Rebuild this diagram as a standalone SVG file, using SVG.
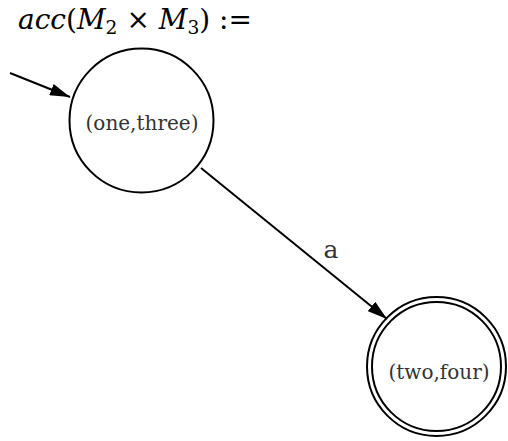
<svg xmlns="http://www.w3.org/2000/svg" width="508" height="441" viewBox="0 0 508 441">
<defs>
<style>
.st{fill:none;stroke:#000;stroke-width:2}
.lbl{font-family:'DejaVu Serif','Liberation Serif',serif;font-size:20px;fill:#333;text-anchor:middle}
.elbl{font-family:'DejaVu Serif','Liberation Serif',serif;font-size:25px;fill:#333;text-anchor:middle}
.edge{fill:none;stroke:#000;stroke-width:2}
.title{font-family:'DejaVu Serif','Liberation Serif',serif;font-size:27px;fill:#000}
</style>
<marker id="ahb" viewBox="0 0 20 12" refX="20" refY="6" markerWidth="20" markerHeight="12" markerUnits="userSpaceOnUse" orient="auto">
<path d="M0,0 L20,6 L0,12 z" fill="#000"/>
</marker>
</defs>
<text class="title" x="18" y="29" textLength="234" lengthAdjust="spacingAndGlyphs"><tspan font-style="italic">acc</tspan>(<tspan font-style="italic">M</tspan><tspan font-size="18" dy="5">2</tspan><tspan dy="-5"> × </tspan><tspan font-style="italic">M</tspan><tspan font-size="18" dy="5">3</tspan><tspan dy="-5">) :=</tspan></text>
<g id="connectors">
<line class="edge" x1="10" y1="73" x2="70" y2="97" marker-end="url(#ahb)"/>
<line class="edge" x1="201" y1="168" x2="387" y2="319" marker-end="url(#ahb)"/>
<text class="elbl" x="331" y="258">a</text>
</g>
<g id="n1">
<circle class="st" cx="141.5" cy="120.5" r="72"/>
<text class="lbl" x="142" y="130">(one,three)</text>
</g>
<g id="n2">
<circle class="st" cx="436.5" cy="366.5" r="69.5"/>
<circle class="st" cx="436.5" cy="366.5" r="64.5"/>
<text class="lbl" x="439" y="379">(two,four)</text>
</g>
</svg>
